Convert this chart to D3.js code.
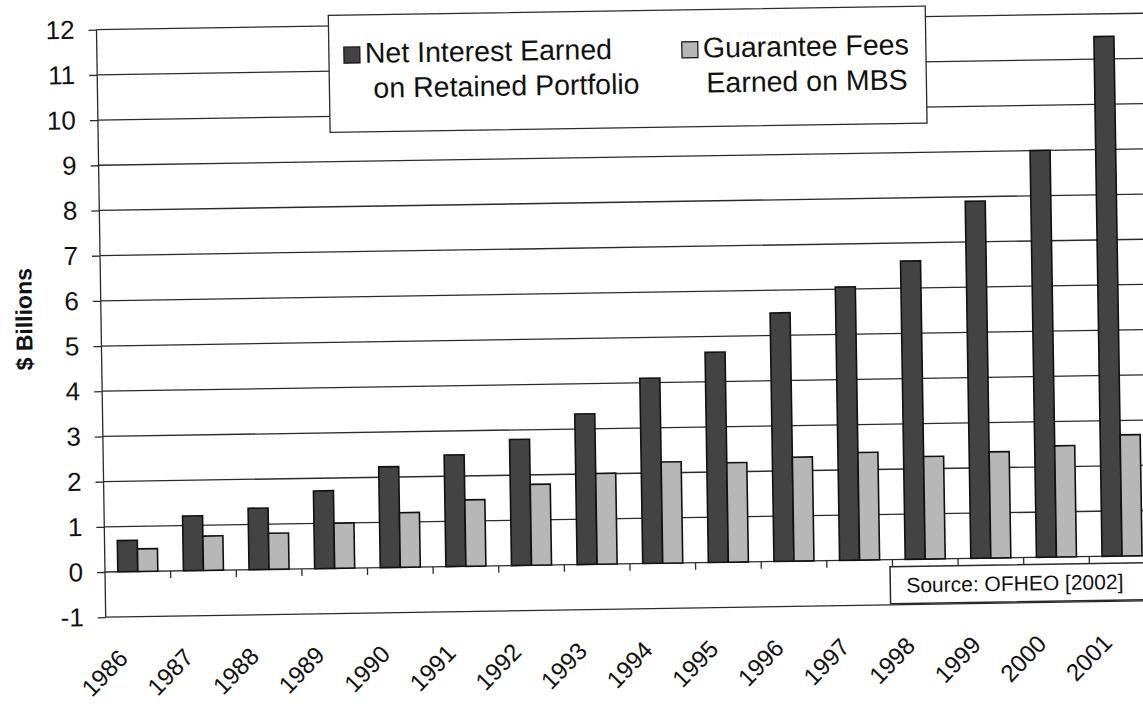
<!DOCTYPE html>
<html>
<head>
<meta charset="utf-8">
<script src="https://cdn.jsdelivr.net/npm/d3@7"></script>
<style>
  body { margin: 0; background: #fff; }
  text { font-family: "Liberation Sans", Arial, sans-serif; fill: #111; }
</style>
</head>
<body>
<svg id="visualization"></svg>
<script>
// values ($ billions)
var years = ["1986","1987","1988","1989","1990","1991","1992","1993",
             "1994","1995","1996","1997","1998","1999","2000","2001"]
var netInterest   = [0.69, 1.21, 1.36, 1.72, 2.23, 2.47, 2.79, 3.33,
                     4.10, 4.65, 5.50, 6.05, 6.60, 7.90, 9.00, 11.50]
var guaranteeFees = [0.50, 0.76, 0.80, 1.00, 1.21, 1.47, 1.79, 2.01,
                     2.24, 2.20, 2.30, 2.38, 2.27, 2.35, 2.46, 2.68]
var seriesKeys = ["net", "fees"]
var seriesLabels = [["Net Interest Earned", "on Retained Portfolio"],
                    ["Guarantee Fees", "Earned on MBS"]]
var yTicks = [-1,0,1,2,3,4,5,6,7,8,9,10,11,12]
var yTitle = "$ Billions"
var sourceNote = "Source: OFHEO [2002]"

var dimensions = {
    width: 1143,
    height: 704,
    margin: { top: 29.6, bottom: 86.8, right: -12, left: 105 }
}

var svg = d3.select("#visualization")
            .attr("width", dimensions.width)
            .attr("height", dimensions.height)

// the scan is a little skewed, so the whole chart is turned slightly
var chart = svg.append("g")
               .attr("transform", "rotate(-0.9, 105, 572)")

var dataset = years.map(function(y, i){
    return { year: y, net: netInterest[i], fees: guaranteeFees[i] }
})

var xScale = d3.scaleBand()
               .domain(years)
               .range([dimensions.margin.left, dimensions.width - dimensions.margin.right])

var xSub = d3.scaleBand()
             .domain(seriesKeys)
             .range([0, xScale.bandwidth()])
             .paddingOuter(0.64)

var yScale = d3.scaleLinear()
               .domain([-1, 12])
               .range([dimensions.height - dimensions.margin.bottom, dimensions.margin.top])

var colorScale = d3.scaleOrdinal()
                   .domain(seriesKeys)
                   .range(["#434343", "#b7b7b7"])

// gridlines
chart.append("g")
     .selectAll("line")
     .data(yTicks)
     .enter()
     .append("line")
     .attr("x1", xScale.range()[0])
     .attr("x2", xScale.range()[1])
     .attr("y1", d => yScale(d))
     .attr("y2", d => yScale(d))
     .attr("stroke", "#2a2a2a")
     .attr("stroke-width", 1.3)

// y axis
var yAxisGen = d3.axisLeft(yScale)
                 .tickValues(yTicks)
                 .tickFormat(d => String(d))
                 .tickSize(8)
                 .tickPadding(14)
var yAxis = chart.append("g")
                 .attr("transform", `translate(${dimensions.margin.left},0)`)
                 .call(yAxisGen)
yAxis.select(".domain").remove()
yAxis.selectAll(".tick line").attr("stroke", "#2a2a2a").attr("stroke-width", 1.3)
yAxis.selectAll(".tick text")
     .attr("font-size", 26)
     .attr("font-family", "Liberation Sans, Arial, sans-serif")
     .attr("fill", "#111")

chart.append("line")
     .attr("x1", dimensions.margin.left)
     .attr("x2", dimensions.margin.left)
     .attr("y1", yScale(-1))
     .attr("y2", yScale(12))
     .attr("stroke", "#2a2a2a")
     .attr("stroke-width", 1.3)

// category tick marks on the zero line
chart.append("g")
     .selectAll("line")
     .data(years.slice(1))
     .enter()
     .append("line")
     .attr("x1", d => xScale(d))
     .attr("x2", d => xScale(d))
     .attr("y1", yScale(0))
     .attr("y2", yScale(0) + 7)
     .attr("stroke", "#2a2a2a")
     .attr("stroke-width", 1.3)

// bars
var groups = chart.append("g")
                  .selectAll("g")
                  .data(dataset)
                  .enter()
                  .append("g")
                  .attr("transform", d => `translate(${xScale(d.year)},0)`)

groups.selectAll("rect")
      .data(d => seriesKeys.map(function(k){ return { key: k, value: d[k] } }))
      .enter()
      .append("rect")
      .attr("x", d => xSub(d.key))
      .attr("width", xSub.bandwidth())
      .attr("y", d => yScale(d.value))
      .attr("height", d => yScale(0) - yScale(d.value))
      .attr("fill", d => colorScale(d.key))
      .attr("stroke", "#111")
      .attr("stroke-width", 1.6)

// x labels
chart.append("g")
     .selectAll("text")
     .data(years)
     .enter()
     .append("text")
     .attr("transform", d => `translate(${xScale(d) + xScale.bandwidth() / 2 - 10},${yScale(0) + 88}) rotate(-45)`)
     .attr("text-anchor", "end")
     .attr("font-size", 24)
     .text(d => d)

// y title
chart.append("text")
     .attr("transform", "translate(36,318) rotate(-90)")
     .attr("text-anchor", "middle")
     .attr("font-size", 23)
     .attr("font-weight", "bold")
     .text(yTitle)

// legend
var legend = chart.append("g")
legend.append("rect")
      .attr("x", 337).attr("y", 19)
      .attr("width", 597).attr("height", 117)
      .attr("fill", "#fff")
      .attr("stroke", "#2a2a2a")
      .attr("stroke-width", 1.3)

var legendX = [352, 690]
var items = legend.selectAll("g.item")
                  .data(seriesKeys)
                  .enter()
                  .append("g")
                  .attr("class", "item")
                  .attr("transform", (d, i) => `translate(${legendX[i]},0)`)

items.append("rect")
     .attr("x", 0).attr("y", 51)
     .attr("width", 16).attr("height", 16)
     .attr("fill", d => colorScale(d))
     .attr("stroke", "#111")
     .attr("stroke-width", 1.2)

items.each(function(d, i){
    var t = d3.select(this).append("text")
              .attr("font-size", 28.5)
    t.append("tspan").attr("x", 21).attr("y", 67).text(seriesLabels[i][0])
    t.append("tspan").attr("x", i == 0 ? 29 : 24).attr("y", 102).text(seriesLabels[i][1])
})

// source note
chart.append("rect")
     .attr("x", 890).attr("y", 579)
     .attr("width", 265).attr("height", 37)
     .attr("fill", "#fff")
     .attr("stroke", "#2a2a2a")
     .attr("stroke-width", 1.5)

chart.append("text")
     .attr("x", 906).attr("y", 605)
     .attr("font-size", 21)
     .text(sourceNote)
</script>
</body>
</html>
